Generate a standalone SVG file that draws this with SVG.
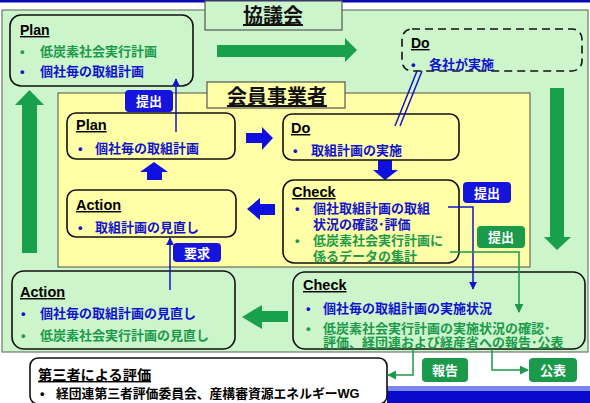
<svg xmlns="http://www.w3.org/2000/svg" width="590" height="403" viewBox="0 0 590 403">
<defs>
<style>
text{font-family:"Liberation Sans","Noto Sans CJK JP",sans-serif;font-weight:bold}
.hd{font-size:14.5px;fill:#000;text-decoration:underline}
.ttl{font-size:20px;fill:#111;text-decoration:underline;text-anchor:middle}
.b{font-size:13px;fill:#1212cc}
.g{font-size:13px;fill:#1a9a4a}
.k{font-size:12.8px;fill:#000}
.bd{font-size:13px;fill:#fff;text-anchor:middle}
.box{stroke:#111;stroke-width:1.6}
.gr{fill:#19a04b}
.bl{fill:#0f0fe0}
.bb{fill:#1414dc}
.gb{fill:#1a9a4a}
.ln{fill:none;stroke-width:1.5}
</style>
<marker id="ab" viewBox="0 0 10 10" refX="9" refY="5" markerWidth="8" markerHeight="8" markerUnits="userSpaceOnUse" orient="auto"><path d="M0,0L10,5L0,10z" fill="#1414c8"/></marker>
<marker id="ag" viewBox="0 0 10 10" refX="9" refY="5" markerWidth="9" markerHeight="9" markerUnits="userSpaceOnUse" orient="auto"><path d="M0,0L10,5L0,10z" fill="#1a9a4a"/></marker>
</defs>
<rect width="590" height="403" fill="#fff"/>
<rect x="0" y="0" width="590" height="2.5" fill="#0a0ab0"/>
<rect x="387" y="386" width="203" height="6" fill="#7a86e8"/>
<rect x="387" y="391" width="203" height="12" fill="#0a0acc"/>
<rect x="2" y="10" width="586" height="342" fill="#ccf5cc" stroke="#6a7a6a" stroke-width="1.2"/>

<g id="kyogikai-title">
<rect x="205" y="1" width="137" height="29" fill="#ccf5cc" stroke="#555" stroke-width="1.2"/>
<text class="ttl" x="273" y="23">協議会</text>
</g>

<g id="members-panel">
<rect x="58" y="93" width="472" height="174" fill="#ffffa8" stroke="#6a6a5a" stroke-width="1.2"/>
</g>
<g id="members-title">
<rect x="207" y="82" width="138" height="26" fill="#ffffa8" stroke="#555" stroke-width="1.2"/>
<text class="ttl" x="277" y="104">会員事業者</text>
</g>

<g id="big-arrows">
<polygon class="gr" points="217,45 345,45 345,38 357,50 345,62 345,57 217,57"/>
<polygon class="gr" points="550,88 564,88 564,237 571,237 557,250 544,237 550,237"/>
<polygon class="gr" points="22,253 22,105 15,105 29.5,90 44,105 37,105 37,253"/>
<polygon class="gr" points="288,311 262,311 262,305 242,317 262,329 262,322 288,322"/>
<polygon class="bl" points="246,133 262,133 262,127 273,138 262,150 262,143 246,143"/>
<polygon class="bl" points="147,180 147,172 140,172 154,162 168,172 162,172 162,180"/>
<polygon class="bl" points="378,160 392,160 392,170 398,170 385,180 373,170 378,170"/>
<polygon class="bl" points="275,204 260,204 260,198 247,209 260,220 260,215 275,215"/>
</g>

<g id="top-plan">
<rect class="box" x="10" y="15" width="183" height="71" rx="11" fill="#ccf5cc"/>
<text class="hd" x="20" y="35" style="font-size:14px">Plan</text>
<text class="g" x="20" y="56">•</text><text class="g" x="40" y="56">低炭素社会実行計画</text>
<text class="b" x="20" y="76">•</text><text class="b" x="40" y="76">個社毎の取組計画</text>
</g>

<g id="top-do">
<rect x="402" y="29" width="180" height="42" rx="10" fill="#ccf5cc" stroke="#111" stroke-width="1.6" stroke-dasharray="8,5"/>
<text class="hd" x="411" y="48" style="font-size:14px">Do</text>
<text class="b" x="411" y="69">•</text><text class="b" x="429" y="69">各社が実施</text>
</g>

<g id="inner-plan">
<rect class="box" x="67" y="113" width="168" height="46" rx="9" fill="#ffffa8"/>
<text class="hd" x="76" y="130">Plan</text>
<text class="b" x="78" y="153">•</text><text class="b" x="95" y="153">個社毎の取組計画</text>
</g>

<g id="inner-do">
<rect class="box" x="283" y="114" width="176" height="46" rx="9" fill="#ffffa8"/>
<text class="hd" x="291" y="133">Do</text>
<text class="b" x="293" y="155">•</text><text class="b" x="311" y="155">取組計画の実施</text>
</g>

<g id="inner-check">
<rect class="box" x="283" y="180" width="176" height="83" rx="11" fill="#ffffa8"/>
<text class="hd" x="292" y="197">Check</text>
<text class="b" x="295" y="213">•</text><text class="b" x="313" y="213">個社取組計画の取組</text>
<text class="b" x="313" y="229">状況の確認･評価</text>
<text class="g" x="295" y="245">•</text><text class="g" x="313" y="245">低炭素社会実行計画に</text>
<text class="g" x="313" y="261">係るデータの集計</text>
</g>

<g id="inner-action">
<rect class="box" x="67" y="190" width="169" height="47" rx="9" fill="#ffffa8"/>
<text class="hd" x="76" y="210">Action</text>
<text class="b" x="78" y="232">•</text><text class="b" x="95" y="232">取組計画の見直し</text>
</g>

<g id="lower-check">
<rect class="box" x="293" y="272" width="292" height="77" rx="12" fill="#ccf5cc"/>
<text class="hd" x="303" y="290">Check</text>
<text class="b" x="306" y="313">•</text><text class="b" x="323" y="313">個社毎の取組計画の実施状況</text>
<text class="g" x="306" y="333">•</text><text class="g" x="323" y="333">低炭素社会実行計画の実施状況の確認･</text>
<text class="g" x="323" y="347">評価、経団連および経産省への報告･公表</text>
</g>

<g id="lower-action">
<rect class="box" x="12" y="271" width="223" height="78" rx="12" fill="#ccf5cc"/>
<text class="hd" x="20" y="297">Action</text>
<text class="b" x="21" y="318">•</text><text class="b" x="40" y="318">個社毎の取組計画の見直し</text>
<text class="g" x="21" y="340">•</text><text class="g" x="40" y="340">低炭素社会実行計画の見直し</text>
</g>

<g id="third-party">
<rect class="box" x="30" y="358" width="357" height="46" rx="8" fill="#fff"/>
<text class="hd" x="38" y="380" style="font-size:14.2px">第三者による評価</text>
<text class="k" x="40" y="398">•</text><text class="k" x="56" y="398">経団連第三者評価委員会、産構審資源エネルギーWG</text>
</g>

<g id="badges">
<rect class="bb" x="125" y="90" width="48" height="22" rx="4"/><text class="bd" x="149" y="106">提出</text>
<rect class="bb" x="463" y="182" width="48" height="21" rx="4"/><text class="bd" x="487" y="197.5">提出</text>
<rect class="gb" x="477" y="226" width="48" height="22" rx="4"/><text class="bd" x="501" y="242">提出</text>
<rect class="bb" x="173" y="243" width="48" height="19" rx="4"/><text class="bd" x="197" y="257.5">要求</text>
<rect class="gb" x="422" y="358" width="46" height="24" rx="4"/><text class="bd" x="445" y="375">報告</text>
<rect class="gb" x="529" y="358" width="48" height="24" rx="4"/><text class="bd" x="553" y="375">公表</text>
</g>

<g id="connectors">
<path class="ln" stroke="#1414c8" d="M176,132V79" marker-end="url(#ab)"/>
<path class="ln" stroke="#1414c8" d="M170,290V238" marker-end="url(#ab)"/>
<path class="ln" stroke="#1414c8" d="M448,207H473V289" marker-end="url(#ab)"/>
<path class="ln" stroke="#1a9a4a" d="M450,252H519V312" marker-end="url(#ag)"/>
<path class="ln" stroke="#1a9a4a" d="M413,349V375H388" marker-end="url(#ag)"/>
<path class="ln" stroke="#1a9a4a" d="M492,349V370H528" marker-end="url(#ag)"/>
<path class="ln" stroke="#1414c8" d="M417,71L395,126"/>
<path class="ln" stroke="#1414c8" d="M422,71L400,126"/>
</g>
</svg>
